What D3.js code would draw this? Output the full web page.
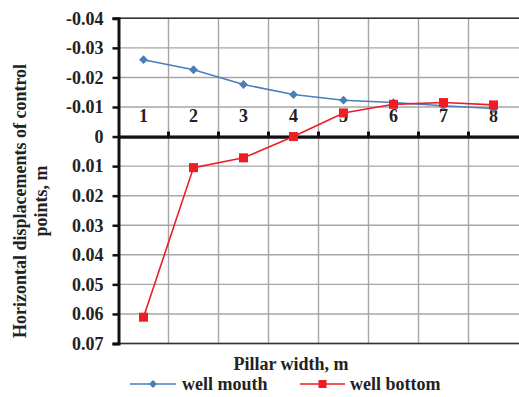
<!DOCTYPE html>
<html><head><meta charset="utf-8">
<script src="https://cdn.jsdelivr.net/npm/d3@7"></script>
<style>body{margin:0;background:#fff}svg{display:block}</style>
</head><body>
<script>
const categories = ["1","2","3","4","5","6","7","8"];
const wellMouth = [-0.026, -0.0226, -0.0176, -0.0142, -0.0123, -0.0115, -0.0104, -0.0095];
const wellBottom = [0.0611, 0.0105, 0.0072, 0.0, -0.008, -0.0109, -0.0115, -0.0107];
const yTicks = [-0.04, -0.03, -0.02, -0.01, 0, 0.01, 0.02, 0.03, 0.04, 0.05, 0.06, 0.07];
const yTickLabels = ["-0.04","-0.03","-0.02","-0.01","0","0.01","0.02","0.03","0.04","0.05","0.06","0.07"];

const W = 519, H = 397;
const svg = d3.select("body").append("svg").attr("width", W).attr("height", H);
const font = "'Liberation Serif','Times New Roman',serif";

const x = d3.scaleBand().domain(categories).range([118.5, 518.5]).paddingInner(0).paddingOuter(0);
const y = d3.scaleLinear().domain([-0.04, 0.07]).range([18.3, 343.5]);

// grid
const g = svg.append("g");
g.selectAll("line.h").data(yTicks).join("line")
  .attr("x1", 118.5).attr("x2", 519).attr("y1", d => y(d)).attr("y2", d => y(d))
  .attr("stroke", "#a6a6a6").attr("stroke-width", 1.4);
g.selectAll("line.v").data(categories.slice(1)).join("line")
  .attr("x1", d => x(d)).attr("x2", d => x(d)).attr("y1", y(-0.04)).attr("y2", y(0.07))
  .attr("stroke", "#a6a6a6").attr("stroke-width", 1.4);

// top & bottom borders
svg.append("line").attr("x1",118.5).attr("x2",519).attr("y1",y(-0.04)).attr("y2",y(-0.04)).attr("stroke","#333").attr("stroke-width",1.6);
svg.append("line").attr("x1",118.5).attr("x2",519).attr("y1",y(0.07)).attr("y2",y(0.07)).attr("stroke","#333").attr("stroke-width",1.6);

// y axis
const yAxis = d3.axisLeft(y).tickValues(yTicks).tickFormat((d,i) => yTickLabels[i]).tickSize(6).tickPadding(9);
const ya = svg.append("g").attr("transform", "translate(118.5,0)").call(yAxis);
ya.select(".domain").attr("stroke", "#111").attr("stroke-width", 3);
ya.selectAll(".tick line").attr("stroke", "#111").attr("stroke-width", 2.5);
ya.selectAll(".tick text").attr("font-family", font).attr("font-weight", "bold").attr("font-size", 18).attr("fill", "#222");

// x axis at zero
const xAxis = d3.axisTop(x).tickSize(0).tickPadding(15);
const xa = svg.append("g").attr("transform", `translate(0,${y(0)})`).call(xAxis);
xa.select(".domain").attr("stroke", "#111").attr("stroke-width", 3.2);
xa.selectAll(".tick text").attr("font-family", font).attr("font-weight", "bold").attr("font-size", 18).attr("fill", "#222");
svg.append("g").selectAll("line").data(categories.slice(1)).join("line")
  .attr("x1", d => x(d)).attr("x2", d => x(d)).attr("y1", y(0) - 5).attr("y2", y(0))
  .attr("stroke", "#111").attr("stroke-width", 3);

const cx = d => x(d) + x.bandwidth() / 2;
const blue = "#4a7ebb", red = "#ee1c25";

// well mouth
const line = d3.line().x((d,i) => cx(categories[i])).y(d => y(d));
svg.append("path").datum(wellMouth).attr("d", line).attr("fill","none").attr("stroke",blue).attr("stroke-width",1.6);
svg.append("g").selectAll("path").data(wellMouth).join("path")
  .attr("d", d3.symbol(d3.symbolDiamond2, 50)())
  .attr("transform", (d,i) => `translate(${cx(categories[i])},${y(d)})`)
  .attr("fill", blue);

// well bottom
svg.append("path").datum(wellBottom).attr("d", line).attr("fill","none").attr("stroke",red).attr("stroke-width",1.6);
svg.append("g").selectAll("rect").data(wellBottom).join("rect")
  .attr("x", (d,i) => cx(categories[i]) - 4.5).attr("y", d => y(d) - 4.5)
  .attr("width", 9).attr("height", 9).attr("fill", red);

// titles
svg.append("text").attr("transform","translate(26,201) rotate(-90)").attr("text-anchor","middle")
  .attr("font-family",font).attr("font-weight","bold").attr("font-size",18).attr("fill","#222")
  .text("Horizontal displacements of control");
svg.append("text").attr("transform","translate(47,201) rotate(-90)").attr("text-anchor","middle")
  .attr("font-family",font).attr("font-weight","bold").attr("font-size",18).attr("fill","#222")
  .text("points, m");
svg.append("text").attr("x",291).attr("y",370).attr("text-anchor","middle")
  .attr("font-family",font).attr("font-weight","bold").attr("font-size",18).attr("fill","#222")
  .text("Pillar width, m");

// legend
const leg = svg.append("g");
leg.append("line").attr("x1",130).attr("x2",176).attr("y1",384).attr("y2",384).attr("stroke",blue).attr("stroke-width",1.6);
leg.append("path").attr("d", d3.symbol(d3.symbolDiamond2, 40)()).attr("transform","translate(153,384)").attr("fill",blue);
leg.append("text").attr("x",182).attr("y",390).attr("font-family",font).attr("font-weight","bold").attr("font-size",18).attr("fill","#222").text("well mouth");
leg.append("line").attr("x1",300).attr("x2",345).attr("y1",384).attr("y2",384).attr("stroke",red).attr("stroke-width",1.6);
leg.append("rect").attr("x",318.5).attr("y",380).attr("width",8).attr("height",8).attr("fill",red);
leg.append("text").attr("x",350).attr("y",390).attr("font-family",font).attr("font-weight","bold").attr("font-size",18).attr("fill","#222").text("well bottom");
</script>
</body></html>
